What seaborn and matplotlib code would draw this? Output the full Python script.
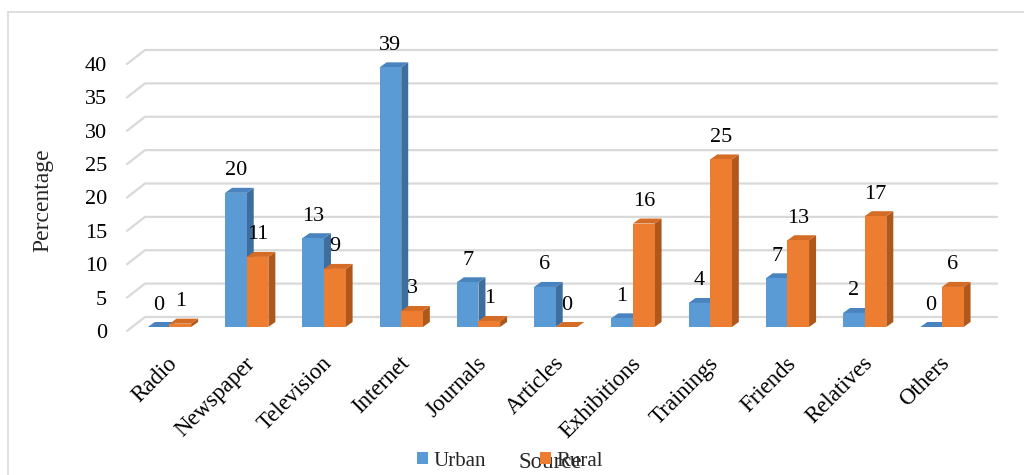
import numpy as np
import pandas as pd
import matplotlib
matplotlib.use("Agg")
import matplotlib.pyplot as plt
from matplotlib.patches import Polygon, Patch
from matplotlib.lines import Line2D
from matplotlib.transforms import ScaledTranslation
import seaborn as sns

# ---- data ----
categories = ["Radio", "Newspaper", "Television", "Internet", "Journals", "Articles",
              "Exhibitions", "Trainings", "Friends", "Relatives", "Others"]
urban = [0, 20.1, 13.3, 38.9, 6.7, 6.0, 1.3, 3.6, 7.3, 2.1, 0]
rural = [0.5, 10.5, 8.7, 2.4, 0.9, 0, 15.5, 25.1, 13.0, 16.6, 6.0]
urban_labels = [0, 20, 13, 39, 7, 6, 1, 4, 7, 2, 0]
rural_labels = [1, 11, 9, 3, 1, 0, 16, 25, 13, 17, 6]
series = ["Urban", "Rural"]
yticks = [0, 5, 10, 15, 20, 25, 30, 35, 40]

df = pd.DataFrame({
    "Source": categories * 2,
    "Percentage": urban + rural,
    "Area": ["Urban"] * len(categories) + ["Rural"] * len(categories),
})

BLUE, ORANGE = "#5B9BD5", "#ED7D31"
BLUE_TOP, BLUE_SIDE = "#4A84BE", "#3E6E9E"
OR_TOP, OR_SIDE = "#D46C26", "#B0581C"
GRID = "#D9D9D9"

sns.set_theme(style="white")
plt.rcParams["font.family"] = ["Liberation Serif", "DejaVu Serif"]

W, H, DPI = 1024, 475, 100
fig = plt.figure(figsize=(W / DPI, H / DPI), dpi=DPI)
ax_left, ax_right, ax_top, ax_bot = 127, 979, 60, 327
ax = fig.add_axes([ax_left / W, (H - ax_bot) / H, (ax_right - ax_left) / W, (ax_bot - ax_top) / H])

sns.barplot(data=df, x="Source", y="Percentage", hue="Area", hue_order=series,
            palette=[BLUE, ORANGE], width=0.56, saturation=1, dodge=True,
            legend=False, ax=ax, edgecolor="none", linewidth=0, zorder=3)

ax.set_xlim(-0.55, 10.48)
ax.set_ylim(0, 40)
ax.set_xlabel("")
ax.set_ylabel("")
for s in ax.spines.values():
    s.set_visible(False)
ax.grid(False)

# pixel -> data conversions
p0 = ax.transData.transform((0, 0))
p1 = ax.transData.transform((1, 1))
pxx = p1[0] - p0[0]
pxy = p1[1] - p0[1]

# pseudo-3D gridlines on back wall
gdx, gdy, gfront = 18 / pxx, 10 / pxy, -4 / pxy
x0l, x1l = ax.get_xlim()
for v in yticks:
    ax.add_line(Line2D([x0l, x0l + gdx, x1l + gdx], [v + gfront, v + gdy, v + gdy],
                       color=GRID, lw=1.6, zorder=1, clip_on=False))

# pseudo-3D bar faces
bdx, bdy = 7 / pxx, 5 / pxy
colors = [(BLUE_TOP, BLUE_SIDE), (OR_TOP, OR_SIDE)]
labels_all = [urban_labels, rural_labels]
for ci, cont in enumerate(ax.containers):
    top_c, side_c = colors[ci]
    for bi, bar in enumerate(cont):
        x = bar.get_x(); w = bar.get_width(); h = bar.get_height()
        side = Polygon([(x + w, 0), (x + w + bdx, bdy), (x + w + bdx, h + bdy), (x + w, h)],
                       closed=True, facecolor=side_c, edgecolor="none", zorder=2, clip_on=False)
        top = Polygon([(x, h), (x + bdx, h + bdy), (x + w + bdx, h + bdy), (x + w, h)],
                      closed=True, facecolor=top_c, edgecolor="none", zorder=2, clip_on=False)
        ax.add_patch(side)
        ax.add_patch(top)
        ax.annotate(str(labels_all[ci][bi]), (x + w / 2, h), xytext=(0, 22 * 0.72),
                    textcoords="offset points", ha="center", va="center",
                    fontsize=16, color="black", zorder=6, annotation_clip=False)

# ticks
ax.set_yticks(yticks)
ax.set_yticklabels([str(v) for v in yticks])
ax.tick_params(axis="y", length=0, pad=14.4, labelsize=16, labelcolor="black")
ax.tick_params(axis="x", length=0, pad=24, labelsize=16.5, labelcolor="black")
ax.set_xticks(range(len(categories)))
ax.set_xticklabels(categories, rotation=45, ha="right", va="center", rotation_mode="anchor")
for lab in ax.get_yticklabels():
    lab.set_transform(lab.get_transform() + ScaledTranslation(0, -4 / DPI, fig.dpi_scale_trans))
for lab in ax.get_xticklabels():
    lab.set_transform(lab.get_transform() + ScaledTranslation(5 / DPI, 0, fig.dpi_scale_trans))

fig.text(43 / W, 1 - 200 / H, "Percentage", rotation=90, ha="center", va="center", fontsize=17)

# legend
handles = [Patch(facecolor=BLUE, edgecolor="none"), Patch(facecolor=ORANGE, edgecolor="none")]
fig.legend(handles, series, loc="center", bbox_to_anchor=(0.498, 1 - 461 / H), ncol=2,
           frameon=False, fontsize=15, handlelength=0.55, handleheight=0.55,
           handletextpad=0.25, columnspacing=2.6)
fig.text(550 / W, 1 - 468 / H, "Source", ha="center", va="baseline", fontsize=16.5)

# outer chart border
fig.add_artist(Line2D([7.5 / W, 7.5 / W], [0, 1 - 12 / H], transform=fig.transFigure,
                      color=GRID, lw=1.2))
fig.add_artist(Line2D([7.5 / W, 1], [1 - 12 / H, 1 - 12 / H], transform=fig.transFigure,
                      color=GRID, lw=1.2))

fig.savefig("out.png", dpi=DPI, facecolor="white")
